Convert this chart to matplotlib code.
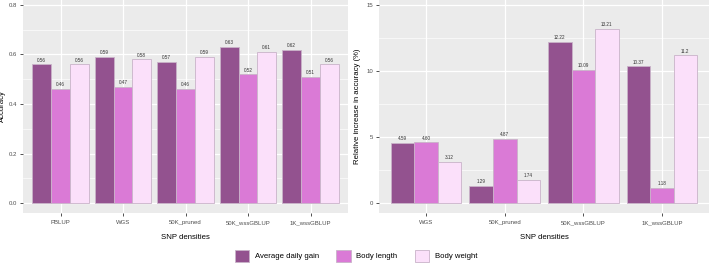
import matplotlib.pyplot as plt
import numpy as np
from matplotlib.patches import Patch
from matplotlib.ticker import MultipleLocator

# data
traits = ['Average daily gain', 'Body length', 'Body weight']
colors = ['#93528F', '#DA7AD6', '#FBE0FA']

acc_methods = ['PBLUP', 'WGS', '50K_pruned', '50K_wssGBLUP', '1K_wssGBLUP']
acc_adg = [0.56, 0.59, 0.57, 0.63, 0.62]
acc_bl = [0.46, 0.47, 0.46, 0.52, 0.51]
acc_bw = [0.56, 0.58, 0.59, 0.61, 0.56]

inc_methods = ['WGS', '50K_pruned', '50K_wssGBLUP', '1K_wssGBLUP']
inc_adg = [4.59, 1.29, 12.22, 10.37]
inc_bl = [4.60, 4.87, 10.09, 1.18]
inc_bw = [3.12, 1.74, 13.21, 11.2]
inc_labels_bl = ['4.60', '4.87', '10.09', '1.18']

W, H = 709, 266
fig = plt.figure(figsize=(W / 100, H / 100), dpi=100)
plt.rcParams['font.family'] = 'Liberation Sans'


def panel(rect, cats, series, labels, ylim, major, minor, ylabel, ylab_x):
    x0, x1, ytop, ybot = rect
    ax = fig.add_axes([x0 / W, (H - ybot) / H, (x1 - x0) / W, (ybot - ytop) / H])
    ax.set_facecolor('#EBEBEB')
    for s in ax.spines.values():
        s.set_visible(False)
    x = np.arange(len(cats))
    bw = 0.3
    for i, (vals, labs) in enumerate(zip(series, labels)):
        pos = x + (i - 1) * bw
        ax.bar(pos, vals, width=bw, color=colors[i], edgecolor='#C9B3C9',
               linewidth=0.6, zorder=3)
        for p, v, t in zip(pos, vals, labs):
            ax.text(p, v + (ylim[1] - ylim[0]) * 0.008, t, ha='center',
                    va='bottom', fontsize=3.3, color='#333333', zorder=4)
    ax.set_xlim(-0.6, len(cats) - 0.4)
    ax.set_ylim(*ylim)
    ax.yaxis.set_major_locator(MultipleLocator(major))
    ax.yaxis.set_minor_locator(MultipleLocator(minor))
    ax.set_xticks(x)
    ax.set_xticklabels(cats)
    ax.grid(which='major', color='white', linewidth=0.9, zorder=0)
    ax.grid(which='minor', axis='y', color='white', linewidth=0.45, zorder=0)
    ax.tick_params(which='major', length=2.2, width=0.6, color='#333333',
                   labelsize=4.3, labelcolor='#4D4D4D', pad=2)
    ax.tick_params(axis='x', pad=3)
    ax.tick_params(which='minor', length=0)
    ax.set_xlabel('SNP densities', fontsize=5.6, labelpad=6)
    ax.set_ylabel(ylabel, fontsize=5.6)
    ax.yaxis.set_label_coords((ylab_x - x0) / (x1 - x0), 0.5)
    ax.set_axisbelow(True)
    return ax


fmt2 = lambda vals: ['%.2f' % v for v in vals]
panel((23, 348, 0, 213), acc_methods, [acc_adg, acc_bl, acc_bw],
      [fmt2(acc_adg), fmt2(acc_bl), fmt2(acc_bw)], (-0.04, 0.82), 0.2, 0.1,
      'Accuracy', 6)
panel((379, 709, 0, 213), inc_methods, [inc_adg, inc_bl, inc_bw],
      [fmt2(inc_adg), inc_labels_bl, ['3.12', '1.74', '13.21', '11.2']],
      (-0.75, 15.4), 5, 2.5, 'Relative increase in accuracy (%)', 361)

handles = [Patch(facecolor=c, edgecolor='#C9B3C9', linewidth=0.6) for c in colors]
fig.legend(handles, traits, loc='center', bbox_to_anchor=(356 / W, (H - 256) / H),
           ncol=3, frameon=False, fontsize=5.6, handlelength=1.9, handleheight=1.9,
           handletextpad=0.7, columnspacing=2.2)

fig.savefig('out.png', dpi=100)
